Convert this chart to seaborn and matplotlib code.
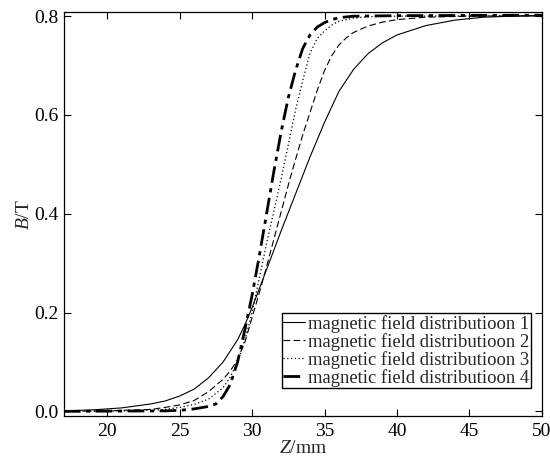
import numpy as np
import matplotlib
matplotlib.use("Agg")
import matplotlib.pyplot as plt
import pandas as pd
import seaborn as sns

# values (Z in mm, B in T)
z1 = [17, 19, 21, 23, 24, 25, 26, 27, 28, 29, 29.5, 30, 31, 32, 33, 34, 35, 36, 37, 38, 39, 40, 42, 44,
      46, 48, 50]
b1 = [0.001, 0.003, 0.007, 0.015, 0.021, 0.031, 0.045, 0.068, 0.100, 0.145, 0.175, 0.210, 0.287, 0.365,
      0.440, 0.515, 0.585, 0.648, 0.692, 0.724, 0.746, 0.762, 0.781, 0.792, 0.798, 0.800, 0.801]

z2 = [17, 20, 23, 24, 25, 26, 27, 28, 28.5, 29, 29.5, 30, 30.5, 31, 31.5, 32, 32.5, 33, 33.5, 34, 34.5,
      35, 35.5, 36, 36.5, 37, 38, 39, 40, 42, 45, 50]
b2 = [0.0, 0.001, 0.004, 0.008, 0.013, 0.022, 0.04, 0.065, 0.082, 0.105, 0.140, 0.19, 0.24, 0.293, 0.348,
      0.403, 0.458, 0.51, 0.56, 0.605, 0.65, 0.69, 0.72, 0.742, 0.756, 0.767, 0.78, 0.788, 0.793, 0.798,
      0.800, 0.801]

z3 = [17, 22, 24, 25, 26, 27, 28, 28.5, 29, 29.5, 30, 30.5, 31, 31.5, 32, 32.5, 33, 33.5, 34, 34.5, 35,
      35.5, 36, 37, 38, 40, 50]
b3 = [0.0, 0.001, 0.004, 0.008, 0.014, 0.025, 0.048, 0.07, 0.10, 0.145, 0.20, 0.27, 0.34, 0.405, 0.47,
      0.54, 0.61, 0.67, 0.725, 0.755, 0.77, 0.782, 0.79, 0.796, 0.799, 0.800, 0.801]

z4 = [17, 24, 25, 26, 27, 27.5, 28, 28.5, 29, 29.5, 30, 30.5, 31, 31.5, 32, 32.5, 33, 33.5, 34, 34.5,
      35, 35.5, 36, 37, 40, 50]
b4 = [0.0, 0.001, 0.002, 0.005, 0.01, 0.015, 0.03, 0.055, 0.10, 0.165, 0.235, 0.315, 0.40, 0.485, 0.565,
      0.635, 0.69, 0.735, 0.762, 0.778, 0.787, 0.793, 0.797, 0.800, 0.801, 0.802]

labels = ["magnetic field distributioon 1", "magnetic field distributioon 2",
          "magnetic field distributioon 3", "magnetic field distributioon 4"]

sns.set_style("ticks")
plt.rcParams["font.family"] = ["Liberation Serif", "DejaVu Serif"]
plt.rcParams["mathtext.fontset"] = "custom"
plt.rcParams["mathtext.rm"] = "Liberation Serif"
plt.rcParams["mathtext.it"] = "Liberation Serif:italic"

fig, ax = plt.subplots(figsize=(5.5, 4.62), dpi=100)
fig.subplots_adjust(left=0.116, right=0.985, top=0.973, bottom=0.1)

styles = [("-", 0.8), ((0, (6, 3)), 0.8), ((0, (1, 2)), 0.9), ((0, (6, 2, 1.5, 2)), 2.0)]
for z, b, lab, (ls, lw) in zip([z1, z2, z3, z4], [b1, b2, b3, b4], labels, styles):
    df = pd.DataFrame({"Z": z, "B": b})
    sns.lineplot(data=df, x="Z", y="B", ax=ax, color="black", linestyle=ls, linewidth=lw, label=lab)

ax.set_xlim(17, 50)
ax.set_ylim(-0.009, 0.8075)
ax.set_xticks([20, 25, 30, 35, 40, 45, 50])
ax.set_yticks([0.0, 0.2, 0.4, 0.6, 0.8])
ax.set_yticklabels(["0.0", "0.2", "0.4", "0.6", "0.8"])
ax.tick_params(direction="in", top=True, right=True, length=5, width=0.8, labelsize=14, colors="black")
ax.tick_params(axis="x", pad=5.3)
for s in ax.spines.values():
    s.set_linewidth(0.9)
    s.set_color("black")

ax.set_xlabel(r"$\mathit{Z}$/mm", fontsize=14, labelpad=0)
ax.set_ylabel(r"$\mathit{B}$/T", fontsize=14, labelpad=1)

leg = ax.legend(loc="lower right", bbox_to_anchor=(0.977, 0.068), borderaxespad=0, fontsize=13.4,
                frameon=True, fancybox=False, edgecolor="black", framealpha=1,
                handlelength=1.15, handletextpad=0.15, labelspacing=0.0, borderpad=0.1)
leg.get_frame().set_linewidth(1.0)

fig.savefig("out.png", dpi=100)
